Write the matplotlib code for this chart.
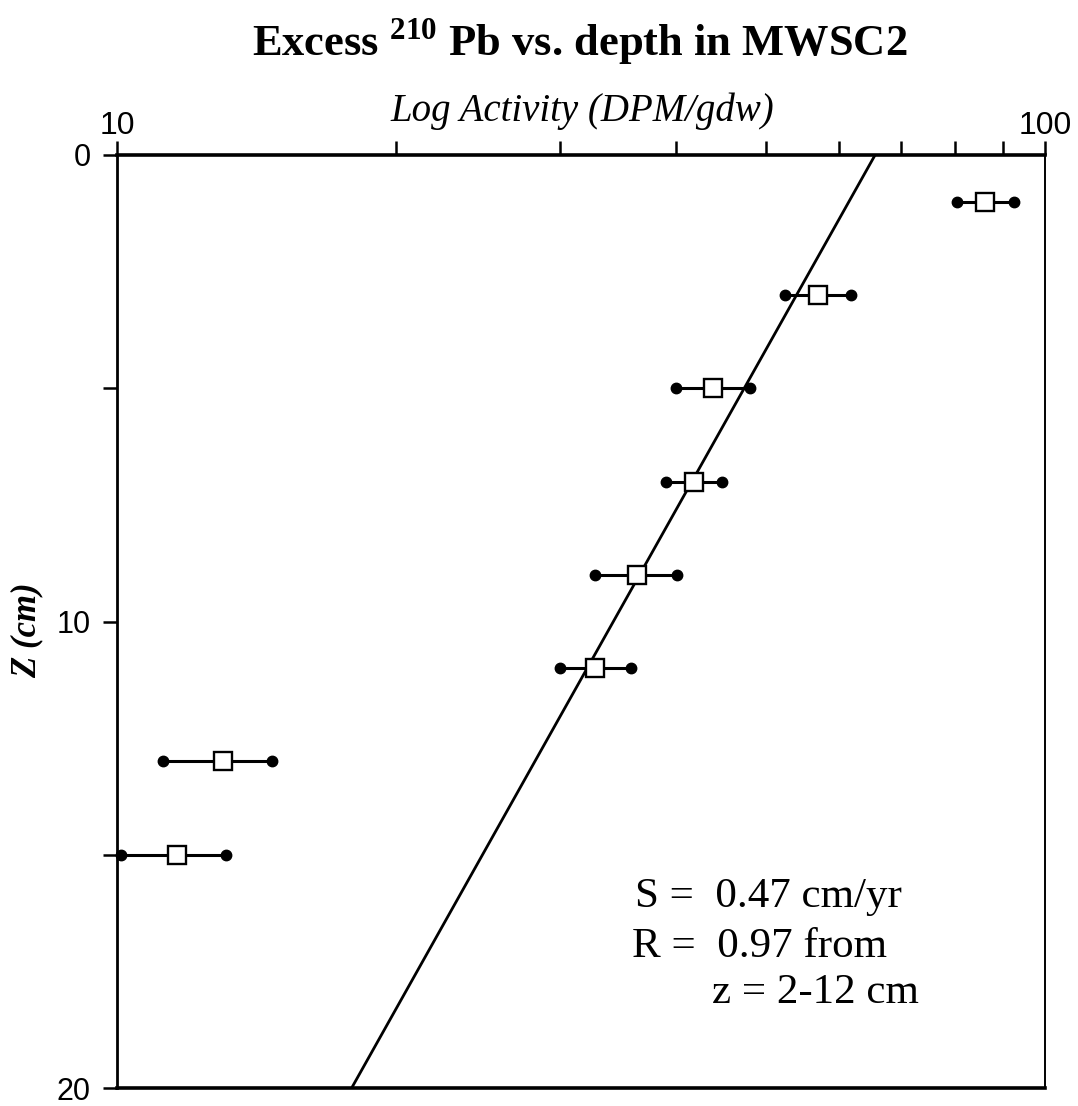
import matplotlib
matplotlib.use("Agg")
import matplotlib.pyplot as plt
from matplotlib.ticker import FixedLocator, NullFormatter
import numpy as np

# Data
depth = np.array([1, 3, 5, 7, 9, 11, 13, 15])            # Z (cm)
activity = np.array([86.1, 56.9, 43.9, 41.9, 36.3, 32.7, 13.0, 11.6])
act_low = np.array([80.4, 52.5, 40.0, 39.0, 32.7, 30.0, 11.2, 10.1])
act_high = np.array([92.6, 61.8, 48.1, 44.9, 40.1, 35.8, 14.7, 13.1])

# regression line (z = 2-12 cm)
fit_act = [65.6, 17.9]
fit_z = [0, 20]

plt.rcParams['mathtext.fontset'] = 'custom'
plt.rcParams['mathtext.rm'] = 'Liberation Serif:bold'
plt.rcParams['mathtext.bf'] = 'Liberation Serif:bold'

W, H = 1078, 1106
fig = plt.figure(figsize=(W / 100, H / 100), dpi=100)
ax = fig.add_axes([117 / W, 1 - 1088 / H, 928 / W, 933 / H])

ax.plot(fit_act, fit_z, color='black', lw=2.0, zorder=2)

ax.errorbar(activity, depth, xerr=[activity - act_low, act_high - activity],
            fmt='none', ecolor='black', elinewidth=2.2, capsize=0, zorder=3)
ax.plot(act_low, depth, 'o', color='black', ms=7.5, clip_on=False, zorder=4)
ax.plot(act_high, depth, 'o', color='black', ms=7.5, clip_on=False, zorder=4)
ax.plot(activity, depth, 's', mfc='white', mec='black', mew=1.7, ms=12.5,
        linestyle='none', zorder=5)

ax.set_xscale('log')
ax.set_xlim(10, 100)
ax.set_ylim(20, 0)

ax.xaxis.tick_top()
ax.xaxis.set_major_locator(FixedLocator([10, 100]))
ax.xaxis.set_minor_locator(FixedLocator([20, 30, 40, 50, 60, 70, 80, 90]))
ax.xaxis.set_minor_formatter(NullFormatter())
ax.set_xticklabels(['10', '100'])
ax.yaxis.set_major_locator(FixedLocator([0, 10, 20]))
ax.yaxis.set_minor_locator(FixedLocator([5, 15]))
ax.set_yticklabels(['0', '10', '20'])

for lab in ax.get_xticklabels():
    lab.set_fontfamily('Liberation Sans')
    lab.set_fontsize(23)
for lab in ax.get_yticklabels():
    lab.set_fontfamily('Liberation Sans')
    lab.set_fontsize(22)
ax.tick_params(axis='x', which='both', direction='out', length=10, width=1.8,
               pad=0, top=True, bottom=False)
ax.tick_params(axis='y', which='both', direction='out', length=10, width=1.8,
               pad=9, right=False)

ax.spines['top'].set_linewidth(2.6)
ax.spines['bottom'].set_linewidth(2.6)
ax.spines['left'].set_linewidth(2.0)
ax.spines['right'].set_linewidth(1.4)

fig.text(0.538, 1 - 56 / H, r'Excess $^{210}$ Pb vs. depth in MWSC2',
         family='Liberation Serif', weight='bold', fontsize=32,
         ha='center', va='baseline')
fig.text(582 / W, 1 - 121 / H, 'Log Activity (DPM/gdw)',
         family='Liberation Serif', style='italic', fontsize=28,
         ha='center', va='baseline')
fig.text(27 / W, 1 - 630 / H, 'Z (cm)', family='Liberation Serif',
         style='italic', weight='bold', fontsize=25, rotation=90,
         ha='center', va='center')

ann = dict(family='Liberation Serif', fontsize=31, transform=ax.transAxes,
           va='baseline', ha='left')
ax.text(0.558, 0.194, 'S =  0.47 cm/yr', **ann)
ax.text(0.555, 0.140, 'R =  0.97 from', **ann)
ax.text(0.641, 0.091, 'z = 2-12 cm', **ann)

fig.savefig('out.png', dpi=100)
